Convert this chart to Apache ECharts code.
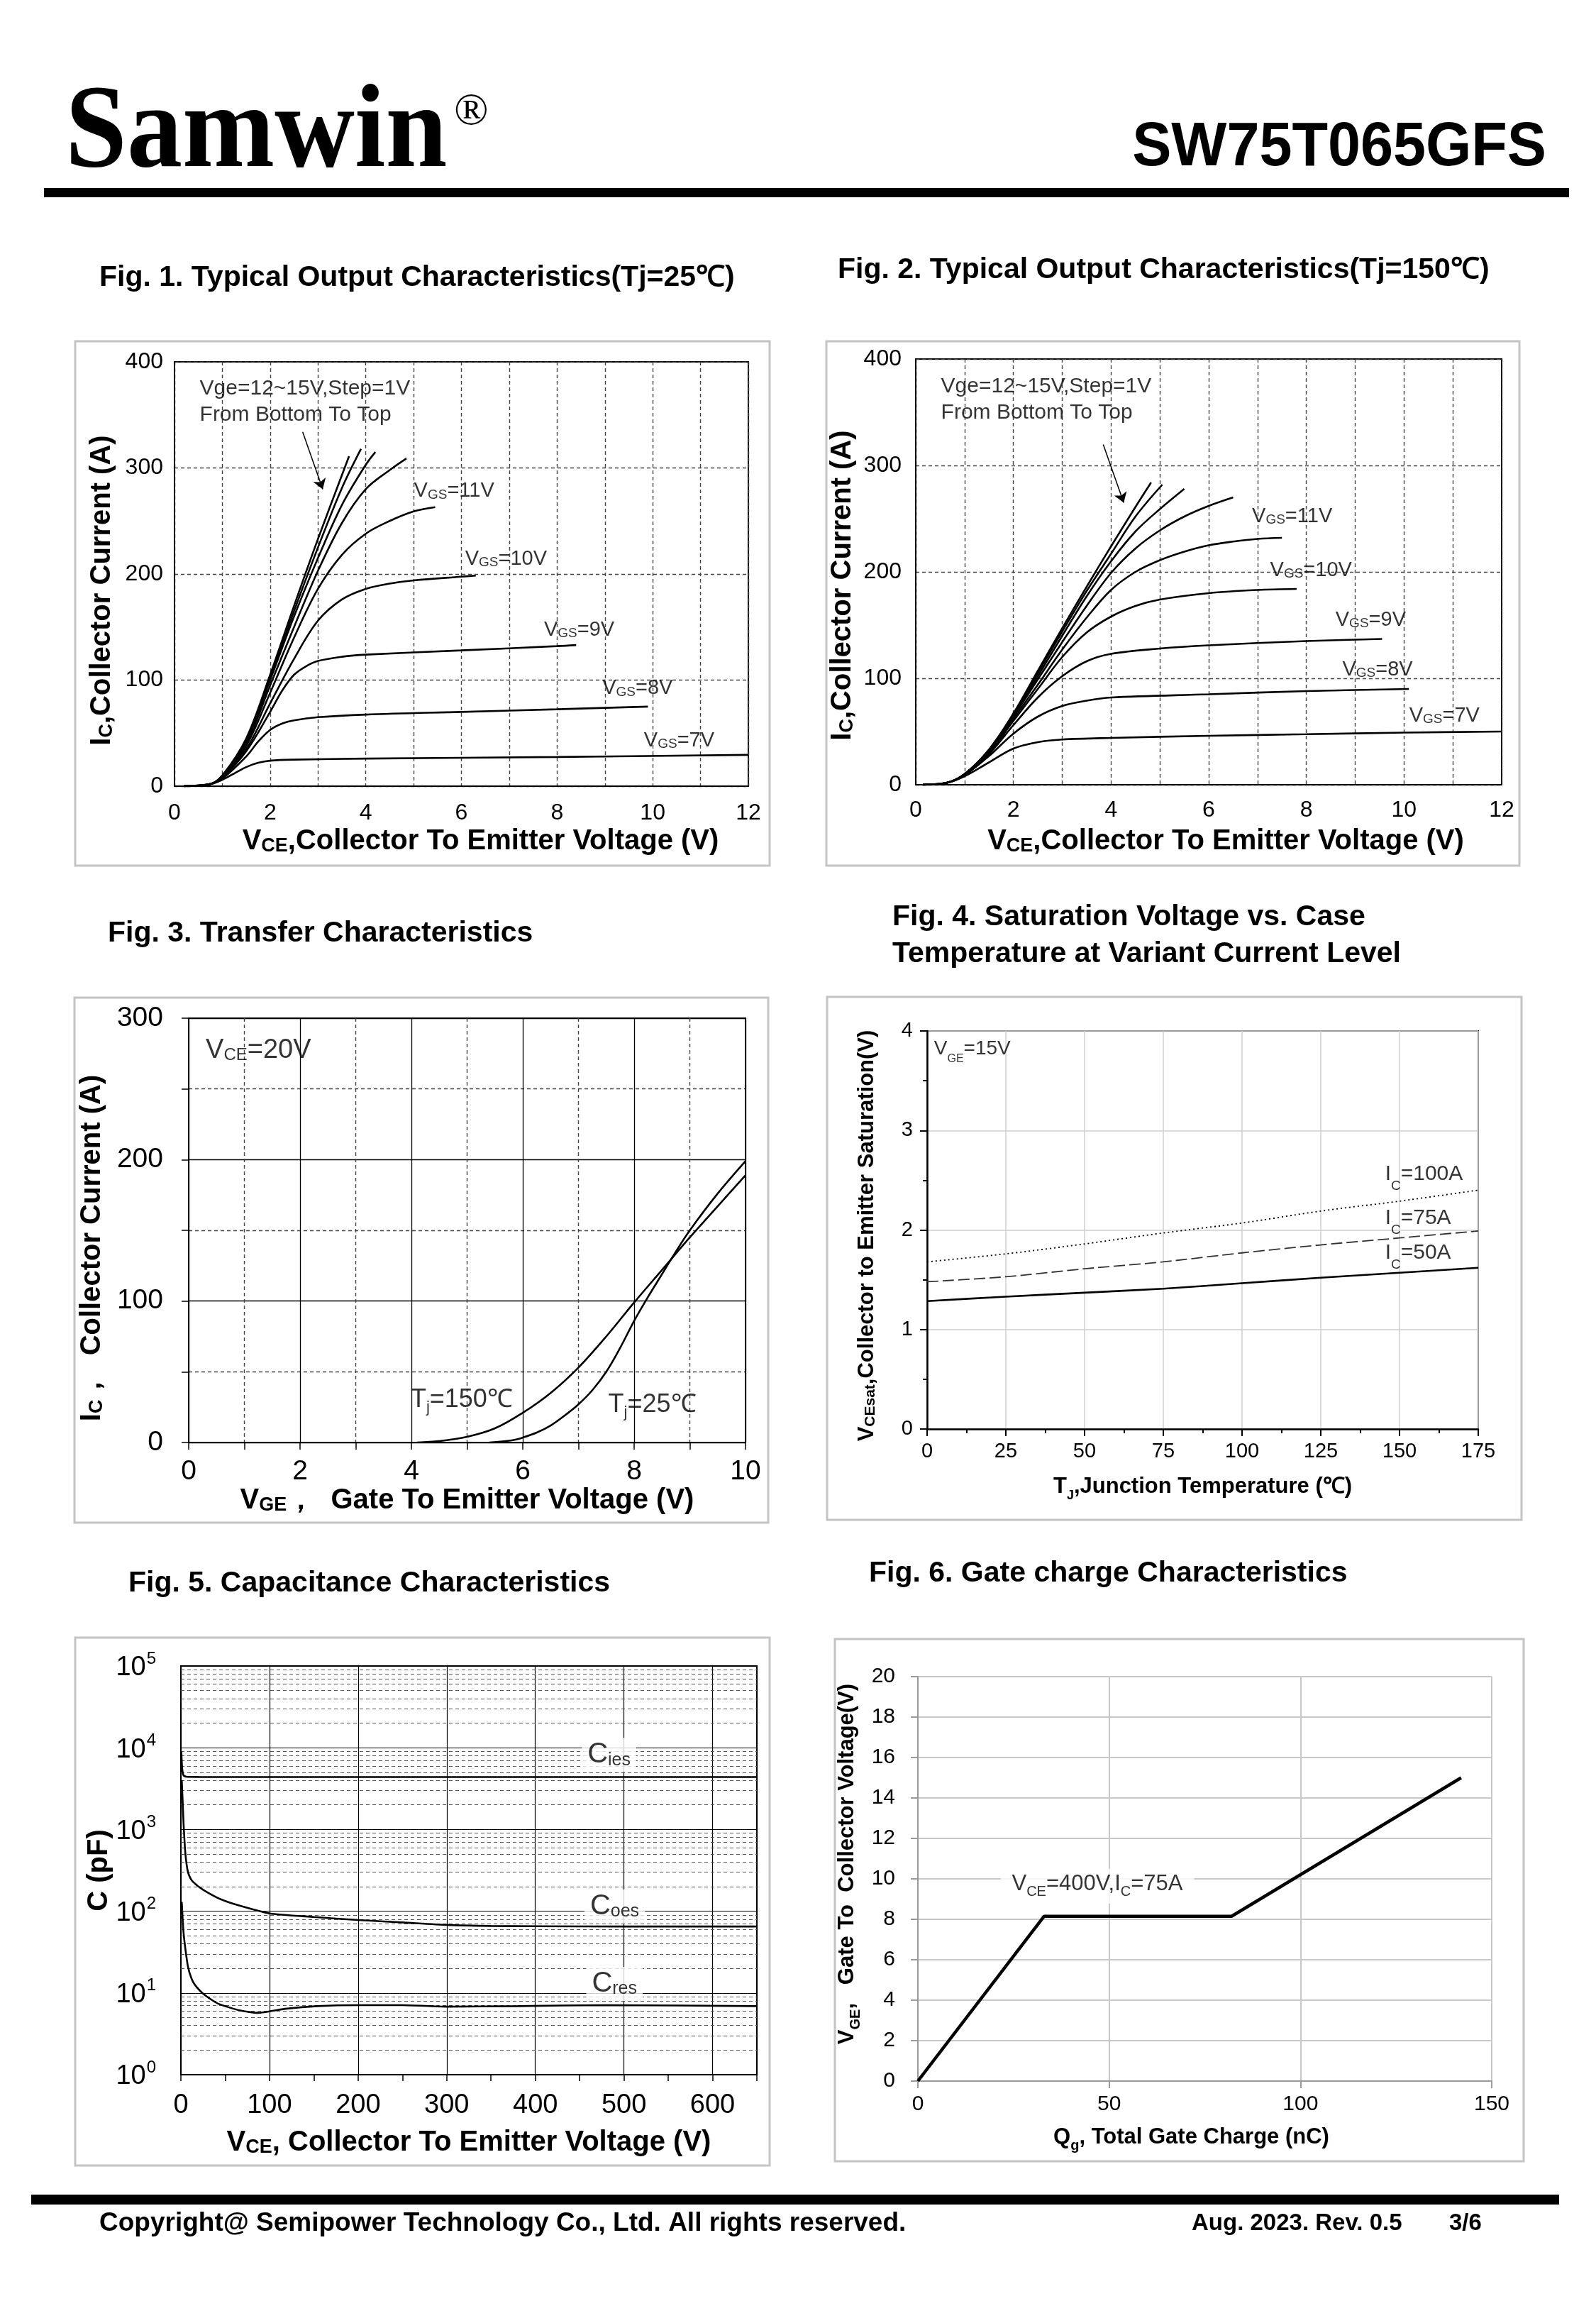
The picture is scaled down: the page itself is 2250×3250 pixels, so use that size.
<!DOCTYPE html>
<html>
<head>
<meta charset="utf-8">
<script src="https://cdn.jsdelivr.net/npm/echarts@6/dist/echarts.min.js"></script>
<style>
html,body{margin:0;padding:0;background:#fff;}
#c{width:2250px;height:3250px;}
</style>
</head>
<body>
<div id="c"></div>
<script>
// ---------------- DATA ----------------
// Fig.1 Typical output characteristics, Tj=25C  [VCE (V), IC (A)]
const fig1_vge7  = [[0.2,0],[0.75,2],[1,6],[1.25,12],[1.5,18],[1.75,22],[2,24],[2.5,25],[4,26],[8,27.5],[12,29.5]];
const fig1_vge8  = [[0.2,0],[0.75,2],[1,7],[1.5,28],[1.75,42],[2,53],[2.25,59],[2.5,62],[3,65],[4,67.5],[6,70],[8,72.5],[9.9,75]];
const fig1_vge9  = [[0.2,0],[0.75,2],[1,8],[1.5,33],[2,70],[2.25,90],[2.5,105],[2.75,113],[3,118],[3.5,122],[4,124],[6,128],[8,132],[8.4,133]];
const fig1_vge10 = [[0.2,0],[0.75,2],[1,8],[1.5,35],[2,78],[2.5,120],[3,156],[3.5,176],[4,186],[4.5,191],[5,194],[6,197.5],[6.3,198.5]];
const fig1_vge11 = [[0.2,0],[0.75,2],[1,9],[1.5,38],[2,88],[2.5,140],[3,186],[3.5,218],[4,238],[4.5,250],[5,259],[5.45,263]];
const fig1_vge12 = [[0.2,0],[0.75,2],[1,9],[1.5,40],[2,95],[2.5,150],[3,203],[3.5,248],[4,280],[4.5,298],[4.85,309]];
const fig1_vge13 = [[0.2,0],[0.75,2],[1,10],[1.5,42],[2,100],[2.5,160],[3,215],[3.5,265],[4,303],[4.2,315]];
const fig1_vge14 = [[0.2,0],[0.75,2],[1,10],[1.5,43],[2,102],[2.5,165],[3,225],[3.5,281],[3.9,318]];
const fig1_vge15 = [[0.2,0],[0.75,2],[1,10],[1.5,45],[2,105],[2.5,170],[3,233],[3.65,311]];

// Fig.2 Typical output characteristics, Tj=150C
const fig2_vge7  = [[0.15,0],[0.65,2],[1,8],[1.5,21],[2,34],[2.5,40],[3,42.5],[4,44],[6,46],[8,47.5],[10,49],[12,50]];
const fig2_vge8  = [[0.15,0],[0.65,2],[1,9],[1.5,27],[2,48],[2.5,64],[3,74],[3.5,79],[4,82],[6,85],[8,88],[10.1,90]];
const fig2_vge9  = [[0.15,0],[0.65,2],[1,9],[1.5,29],[2,56],[2.5,82],[3,102],[3.5,116],[4,123],[5,128],[6,131],[8,135],[9.55,137]];
const fig2_vge10 = [[0.15,0],[0.65,2],[1,10],[1.5,30],[2,60],[2.5,90],[3,120],[3.5,143],[4,158],[4.5,168],[5,174],[6,180],[7,183],[7.8,184]];
const fig2_vge11 = [[0.15,0],[0.65,2],[1,10],[1.5,31],[2,62],[2.5,94],[3,127],[3.5,157],[4,183],[4.5,200],[5,211],[5.5,219],[6,225],[6.5,228.5],[7,231],[7.5,232]];
const fig2_vge12 = [[0.15,0],[0.65,2],[1,10],[1.5,32],[2,64],[2.5,99],[3,134],[3.5,168],[4,199],[4.5,222],[5,239],[5.5,252],[6,262],[6.5,270]];
const fig2_vge13 = [[0.15,0],[0.65,2],[1,10],[1.5,32],[2,65],[2.5,102],[3,140],[3.5,177],[4,210],[4.5,238],[5,259],[5.5,278]];
const fig2_vge14 = [[0.15,0],[0.65,2],[1,10],[1.5,33],[2,66],[2.5,105],[3,144],[3.5,182],[4,217],[4.5,252],[5.05,282]];
const fig2_vge15 = [[0.15,0],[0.65,2],[1,10],[1.5,33],[2,67],[2.5,107],[3,147],[3.5,186],[4,224],[4.5,261],[4.82,284]];

// Fig.3 Transfer characteristics [VGE (V), IC (A)]
const fig3_tj25  = [[5.4,0],[5.8,1.5],[6,3.5],[6.25,7],[6.5,12],[6.75,19],[7,27],[7.25,37],[7.5,50],[7.75,67],[8,86],[8.25,103],[8.5,119],[8.75,135],[9,150],[9.5,176],[10,199]];
const fig3_tj150 = [[4.1,0],[4.5,1],[5,4],[5.5,10],[6,21],[6.5,35],[7,53],[7.5,75],[8,99],[8.5,122],[9,145],[9.5,167],[10,189]];

// Fig.4 VCEsat vs Tj
const fig4_temps = [0,25,50,75,100,125,150,175];
const fig4_ic100 = [1.68,1.76,1.86,1.97,2.07,2.19,2.29,2.40];
const fig4_ic75  = [1.48,1.53,1.61,1.68,1.77,1.85,1.92,1.99];
const fig4_ic50  = [1.285,1.33,1.37,1.41,1.465,1.52,1.57,1.62];

// Fig.5 Capacitance [VCE (V), C (pF)]
const fig5_cies = [[0.5,9000],[1.5,5500],[3,4600],[6,4420],[20,4390],[100,4380],[300,4380],[500,4380],[650,4380]];
const fig5_coes = [[1,4000],[2,2200],[3,1200],[5,520],[8,300],[12,240],[20,200],[30,170],[45,140],[65,118],[100,94],[150,85],[200,78],[250,73],[300,68],[350,66],[400,65.5],[500,65],[650,65]];
const fig5_cres = [[1,130],[2,80],[3,55],[5,35],[8,21],[12,15],[16,12.5],[26,9.6],[42,7.4],[67,6.1],[87,5.7],[118,6.4],[154,6.9],[200,7.1],[250,7.1],[300,6.8],[380,6.9],[480,7.1],[650,6.9]];

// Fig.6 Gate charge
const fig6_qg  = [0, 33, 82, 142];
const fig6_vge = [0, 8.15, 8.15, 15];

// Axis ranges / tick steps
const fig1_x = [0, 12, 2],  fig1_y = [0, 400, 100];
const fig2_x = [0, 12, 2],  fig2_y = [0, 400, 100];
const fig3_x = [0, 10, 2],  fig3_y = [0, 300, 100];
const fig4_x = [0, 175, 25], fig4_y = [0, 4, 1];
const fig5_x = [0, 650, 100], fig5_y = [1, 100000];
const fig6_x = [0, 150, 50], fig6_y = [0, 20, 2];

// ---------------- CHART ----------------
const FONT = '"Liberation Sans", Arial, Helvetica, sans-serif';
const chart = echarts.init(document.getElementById('c'), null, {renderer: 'canvas', width: 2250, height: 3250});

const grids = [
  {left: 246,  top: 510,  width: 809, height: 598},
  {left: 1291, top: 506,  width: 826, height: 600},
  {left: 266,  top: 1435, width: 785, height: 598},
  {left: 1307, top: 1453, width: 777, height: 561},
  {left: 255,  top: 2348, width: 812, height: 576},
  {left: 1294, top: 2363, width: 809, height: 570}
].map((g, i) => Object.assign({
  show: i !== 5, borderColor: '#000', borderWidth: 2, backgroundColor: 'transparent',
  containLabel: false, outerBoundsMode: 'none'
}, g));

function nameStyle(size, rich, pad) {
  const r = {};
  Object.keys(rich).forEach(k => { r[k] = Object.assign({fontFamily: FONT, fontWeight: 'bold', color: '#000', verticalAlign: 'bottom'}, rich[k]); });
  return {fontFamily: FONT, fontWeight: 'bold', fontSize: size, color: '#000', rich: r, padding: pad || 0};
}
function lbl(size, margin) {
  return {fontFamily: FONT, fontSize: size, color: '#000', margin: margin};
}
const dash1 = {type: [5, 4], color: '#444', width: 1.4};

const xAxes = [
  // fig1
  {gridIndex: 0, type: 'value', min: fig1_x[0], max: fig1_x[1], interval: fig1_x[2],
   axisLine: {lineStyle: {color: '#000', width: 2}}, axisTick: {show: false},
   axisLabel: lbl(32, 22), splitLine: {show: true, lineStyle: dash1},
   minorTick: {show: false, splitNumber: 2}, minorSplitLine: {show: true, lineStyle: dash1},
   name: '{b|V}{s|CE}{b|,Collector To Emitter Voltage (V)}', nameLocation: 'middle', nameGap: 58,
   nameTextStyle: nameStyle(40, {b: {fontSize: 40}, s: {fontSize: 27}}, [0, 0, 0, 54])},
  // fig2
  {gridIndex: 1, type: 'value', min: fig2_x[0], max: fig2_x[1], interval: fig2_x[2],
   axisLine: {lineStyle: {color: '#000', width: 2}}, axisTick: {show: false},
   axisLabel: lbl(32, 20), splitLine: {show: true, lineStyle: dash1},
   minorTick: {show: false, splitNumber: 2}, minorSplitLine: {show: true, lineStyle: dash1},
   name: '{b|V}{s|CE}{b|,Collector To Emitter Voltage (V)}', nameLocation: 'middle', nameGap: 60,
   nameTextStyle: nameStyle(40, {b: {fontSize: 40}, s: {fontSize: 27}}, [0, 0, 0, 48])},
  // fig3
  {gridIndex: 2, type: 'value', min: fig3_x[0], max: fig3_x[1], interval: fig3_x[2],
   axisLine: {lineStyle: {color: '#000', width: 2}},
   axisTick: {show: true, inside: false, length: 10, lineStyle: {color: '#000', width: 1.5}},
   minorTick: {show: true, splitNumber: 2, length: 10, lineStyle: {color: '#000', width: 1.5}},
   axisLabel: lbl(39, 22), splitLine: {show: true, lineStyle: {color: '#000', width: 1.3}},
   minorSplitLine: {show: true, lineStyle: dash1},
   name: '{b|V}{s|GE}{b|，  Gate To Emitter Voltage (V)}', nameLocation: 'middle', nameGap: 60,
   nameTextStyle: nameStyle(40, {b: {fontSize: 40}, s: {fontSize: 27}})},
  // fig4
  {gridIndex: 3, type: 'value', min: fig4_x[0], max: fig4_x[1], interval: fig4_x[2],
   axisLine: {lineStyle: {color: '#000', width: 2.5}},
   axisTick: {show: true, inside: false, length: 10, lineStyle: {color: '#000', width: 2}},
   minorTick: {show: true, splitNumber: 2, length: 6, lineStyle: {color: '#000', width: 2}},
   axisLabel: lbl(29, 17), splitLine: {show: true, lineStyle: {color: '#cfcfcf', width: 1.5}},
   name: '{b|T}{s|J}{b|,Junction Temperature (℃)}', nameLocation: 'middle', nameGap: 66,
   nameTextStyle: nameStyle(31, {b: {fontSize: 31, padding: [0, 0, 6, 0]}, s: {fontSize: 18}})},
  // fig5
  {gridIndex: 4, type: 'value', min: fig5_x[0], max: fig5_x[1], interval: fig5_x[2],
   axisLine: {lineStyle: {color: '#000', width: 2}},
   axisTick: {show: true, inside: false, length: 9, lineStyle: {color: '#000', width: 1.5}},
   minorTick: {show: true, splitNumber: 2, length: 9, lineStyle: {color: '#000', width: 1.5}},
   axisLabel: Object.assign(lbl(38, 25), {showMaxLabel: false}),
   splitLine: {show: true, lineStyle: {color: '#000', width: 1.2}},
   name: '{b|V}{s|CE}{b|, Collector To Emitter Voltage (V)}', nameLocation: 'middle', nameGap: 76,
   nameTextStyle: nameStyle(40, {b: {fontSize: 40}, s: {fontSize: 27}})},
  // fig6
  {gridIndex: 5, type: 'value', min: fig6_x[0], max: fig6_x[1], interval: fig6_x[2],
   axisLine: {lineStyle: {color: '#9a9a9a', width: 2}},
   axisTick: {show: true, inside: false, length: 10, lineStyle: {color: '#9a9a9a', width: 2}},
   axisLabel: lbl(30, 18), splitLine: {show: true, lineStyle: {color: '#c8c8c8', width: 2}},
   name: '{b|Q}{s|g}{b|, Total Gate Charge (nC)}', nameLocation: 'middle', nameGap: 64,
   nameTextStyle: nameStyle(31, {b: {fontSize: 31, padding: [0, 0, 6, 0]}, s: {fontSize: 20}}, [0, 38, 0, 0])}
];

const yAxes = [
  {gridIndex: 0, type: 'value', min: fig1_y[0], max: fig1_y[1], interval: fig1_y[2],
   axisLine: {lineStyle: {color: '#000', width: 2}}, axisTick: {show: false},
   axisLabel: lbl(32, 16), splitLine: {show: true, lineStyle: dash1},
   name: '{b|I}{s|C}{b|,Collector Current (A)}', nameLocation: 'middle', nameGap: 82,
   nameTextStyle: nameStyle(40, {b: {fontSize: 40}, s: {fontSize: 27}}, [0, 46, 0, 0])},
  {gridIndex: 1, type: 'value', min: fig2_y[0], max: fig2_y[1], interval: fig2_y[2],
   axisLine: {lineStyle: {color: '#000', width: 2}}, axisTick: {show: false},
   axisLabel: lbl(32, 20), splitLine: {show: true, lineStyle: dash1},
   name: '{b|I}{s|C}{b|,Collector Current (A)}', nameLocation: 'middle', nameGap: 83,
   nameTextStyle: nameStyle(40, {b: {fontSize: 40}, s: {fontSize: 27}}, [0, 38, 0, 0])},
  {gridIndex: 2, type: 'value', min: fig3_y[0], max: fig3_y[1], interval: fig3_y[2],
   axisLine: {lineStyle: {color: '#000', width: 2}},
   axisTick: {show: true, inside: false, length: 10, lineStyle: {color: '#000', width: 1.5}},
   minorTick: {show: true, splitNumber: 2, length: 10, lineStyle: {color: '#000', width: 1.5}},
   axisLabel: lbl(39, 36), splitLine: {show: true, lineStyle: {color: '#000', width: 1.3}},
   minorSplitLine: {show: true, lineStyle: dash1},
   name: '{b|I}{s|C}{b|，  Collector Current (A)}', nameLocation: 'middle', nameGap: 116,
   nameTextStyle: nameStyle(40, {b: {fontSize: 40}, s: {fontSize: 27}}, [0, 50, 0, 0])},
  {gridIndex: 3, type: 'value', min: fig4_y[0], max: fig4_y[1], interval: fig4_y[2],
   axisLine: {lineStyle: {color: '#000', width: 2.5}},
   axisTick: {show: true, inside: false, length: 10, lineStyle: {color: '#000', width: 2}},
   minorTick: {show: true, splitNumber: 2, length: 6, lineStyle: {color: '#000', width: 2}},
   axisLabel: lbl(29, 20), splitLine: {show: true, lineStyle: {color: '#cfcfcf', width: 1.5}},
   name: '{b|V}{s|CEsat}{b|,Collector to Emitter Saturation(V)}', nameLocation: 'middle', nameGap: 69,
   nameTextStyle: nameStyle(31, {b: {fontSize: 31}, s: {fontSize: 21}}, [0, 16, 0, 0])},
  {gridIndex: 4, type: 'log', logBase: 10, min: fig5_y[0], max: fig5_y[1],
   axisLine: {lineStyle: {color: '#000', width: 2}}, axisTick: {show: false},
   axisLabel: {fontFamily: FONT, color: '#000', margin: 35,
     formatter: v => '{b|10}{s|' + Math.round(Math.log10(v)) + '}',
     rich: {b: {fontFamily: FONT, fontSize: 38, color: '#000', verticalAlign: 'bottom'},
            s: {fontFamily: FONT, fontSize: 24, color: '#000', verticalAlign: 'bottom', padding: [0, 0, 20, 1]}}},
   splitLine: {show: true, lineStyle: {color: '#000', width: 1.2}},
   name: 'C (pF)', nameLocation: 'middle', nameGap: 95,
   nameTextStyle: nameStyle(40, {})},
  {gridIndex: 5, type: 'value', min: fig6_y[0], max: fig6_y[1], interval: fig6_y[2],
   axisLine: {lineStyle: {color: '#9a9a9a', width: 2}},
   axisTick: {show: true, inside: false, length: 10, lineStyle: {color: '#9a9a9a', width: 2}},
   axisLabel: lbl(30, 32), splitLine: {show: true, lineStyle: {color: '#c8c8c8', width: 2}},
   name: '{b|V}{s|GE}{b|,   Gate To  Collector Voltage(V)}', nameLocation: 'middle', nameGap: 78,
   nameTextStyle: nameStyle(31, {b: {fontSize: 31, padding: [0, 0, 6, 0]}, s: {fontSize: 20}}, [0, 0, 0, 42])}
];

const series = [];
function curve(gi, data, style, smooth) {
  series.push({type: 'line', xAxisIndex: gi, yAxisIndex: gi, data: data, showSymbol: false, symbol: 'none',
    smooth: smooth === undefined ? 0.35 : smooth, lineStyle: Object.assign({color: '#000', width: 2.6}, style || {}),
    z: 5, silent: true, animation: false});
}
function ann(gi, pos, text, rich, extra) {
  const r = {};
  Object.keys(rich).forEach(k => { r[k] = Object.assign({fontFamily: FONT, color: '#000', verticalAlign: 'bottom'}, rich[k]); });
  series.push({type: 'scatter', xAxisIndex: gi, yAxisIndex: gi, data: [pos], symbolSize: 1,
    itemStyle: {color: 'rgba(0,0,0,0)'}, silent: true, animation: false, z: 8,
    label: Object.assign({show: true, position: 'right', distance: 0, formatter: text, rich: r, fontFamily: FONT, color: '#000'}, extra || {})});
}

// Fig 1
[fig1_vge7, fig1_vge8, fig1_vge9, fig1_vge10, fig1_vge11, fig1_vge12, fig1_vge13, fig1_vge14, fig1_vge15].forEach(d => curve(0, d));
// Fig 2
[fig2_vge7, fig2_vge8, fig2_vge9, fig2_vge10, fig2_vge11, fig2_vge12, fig2_vge13, fig2_vge14, fig2_vge15].forEach(d => curve(1, d));
// Fig 3
curve(2, fig3_tj25); curve(2, fig3_tj150);
// Fig 4
curve(3, fig4_temps.map((t, i) => [t, fig4_ic100[i]]), {type: [2, 4], width: 1.8}, 0.3);
curve(3, fig4_temps.map((t, i) => [t, fig4_ic75[i]]), {type: [16, 6], width: 1.8, color: '#333'}, 0.3);
curve(3, fig4_temps.map((t, i) => [t, fig4_ic50[i]]), {width: 2.6}, 0.3);
// Fig 5
curve(4, fig5_cies, {width: 2.6}, 0.2);
curve(4, fig5_coes, {width: 2.6}, 0.2);
curve(4, fig5_cres, {width: 2.6}, 0.2);
// Fig 5 minor log gridlines (2..9 per decade)
const fig5Minor = [];
for (let d = 1; d < 100000; d *= 10) for (let m = 2; m <= 9; m++) fig5Minor.push({yAxis: d * m});
series.push({type: 'line', xAxisIndex: 4, yAxisIndex: 4, data: [[650, 1]], symbol: 'none', lineStyle: {opacity: 0}, z: 1, silent: true, animation: false,
  markLine: {silent: true, symbol: 'none', animation: false, label: {show: false}, lineStyle: {type: [5, 4], color: '#555', width: 1.2}, data: fig5Minor}});
// Fig 6
curve(5, fig6_qg.map((q, i) => [q, fig6_vge[i]]), {width: 4.5}, 0);

// annotations (positions in data coordinates)
const vgsRich = {m: {fontSize: 29}, s: {fontSize: 19}};
ann(0, [0.52, 374.8], 'Vge=12~15V,Step=1V', {}, {fontSize: 30});
ann(0, [0.52, 350], 'From Bottom To Top', {}, {fontSize: 30});
ann(0, [5.0, 278], '{m|V}{s|GS}{m|=11V}', vgsRich);
ann(0, [6.07, 214], '{m|V}{s|GS}{m|=10V}', vgsRich);
ann(0, [7.72, 147], '{m|V}{s|GS}{m|=9V}', vgsRich);
ann(0, [8.94, 92], '{m|V}{s|GS}{m|=8V}', vgsRich);
ann(0, [9.81, 43], '{m|V}{s|GS}{m|=7V}', vgsRich);
ann(1, [0.51, 374], 'Vge=12~15V,Step=1V', {}, {fontSize: 30});
ann(1, [0.51, 349.6], 'From Bottom To Top', {}, {fontSize: 30});
ann(1, [6.88, 252], '{m|V}{s|GS}{m|=11V}', vgsRich);
ann(1, [7.25, 201.6], '{m|V}{s|GS}{m|=10V}', vgsRich);
ann(1, [8.59, 154.5], '{m|V}{s|GS}{m|=9V}', vgsRich);
ann(1, [8.73, 108], '{m|V}{s|GS}{m|=8V}', vgsRich);
ann(1, [10.1, 65], '{m|V}{s|GS}{m|=7V}', vgsRich);
series.push({type: 'lines', coordinateSystem: 'cartesian2d', xAxisIndex: 0, yAxisIndex: 0, silent: true, animation: false,
  symbol: ['none', 'arrow'], symbolSize: 14, lineStyle: {color: '#000', width: 1.5, opacity: 1},
  data: [{coords: [[2.68, 334], [3.1, 280]]}]});
series.push({type: 'lines', coordinateSystem: 'cartesian2d', xAxisIndex: 1, yAxisIndex: 1, silent: true, animation: false,
  symbol: ['none', 'arrow'], symbolSize: 14, lineStyle: {color: '#000', width: 1.5, opacity: 1},
  data: [{coords: [[3.84, 319.7], [4.26, 265]]}]});

ann(2, [0.3, 277], '{m|V}{s|CE}{m|=20V}', {m: {fontSize: 38}, s: {fontSize: 24}});
ann(2, [3.98, 29.3], '{m|T}{s|j}{m|=150℃}', {m: {fontSize: 36, padding: [0, 0, 4, 0]}, s: {fontSize: 22}});
ann(2, [7.53, 25.7], '{m|T}{s|j}{m|=25℃}', {m: {fontSize: 36, padding: [0, 0, 4, 0]}, s: {fontSize: 22}});

const icRich = {m: {fontSize: 30, padding: [0, 0, 12, 0]}, s: {fontSize: 19}};
ann(3, [2.1, 3.79], '{m|V}{s|GE}{m|=15V}', {m: {fontSize: 28, padding: [0, 0, 8, 0]}, s: {fontSize: 16}});
ann(3, [145.3, 2.52], '{m|I}{s|C}{m|=100A}', icRich);
ann(3, [145.3, 2.08], '{m|I}{s|C}{m|=75A}', icRich);
ann(3, [145.3, 1.73], '{m|I}{s|C}{m|=50A}', icRich);

const cRich = {m: {fontSize: 40}, s: {fontSize: 25}};
const whiteBg = {backgroundColor: '#fff', padding: [4, 8, 4, 8]};
ann(4, [452, 8180], '{m|C}{s|ies}', cRich, whiteBg);
ann(4, [455, 114], '{m|C}{s|oes}', cRich, whiteBg);
ann(4, [457, 12.9], '{m|C}{s|res}', cRich, whiteBg);

ann(5, [21.5, 9.64], '{m|V}{s|CE}{m|=400V,I}{s|C}{m|=75A}', {m: {fontSize: 31, padding: [0, 0, 6, 0]}, s: {fontSize: 20}},
  {backgroundColor: '#fff', padding: [6, 16, 6, 16]});

// ---------------- PAGE GRAPHICS ----------------
function txt(x, y, text, font, align, extra) {
  return Object.assign({type: 'text', x: x, y: y, silent: true, z: 10,
    style: {text: text, font: font, fill: '#000', textAlign: align || 'left', textVerticalAlign: 'middle'}}, extra || {});
}
function box(x1, y1, x2, y2) {
  return {type: 'rect', silent: true, z: 0, shape: {x: x1, y: y1, width: x2 - x1, height: y2 - y1},
    style: {fill: 'none', stroke: '#c4c4c4', lineWidth: 3}};
}
const TF = 'bold 41px ' + FONT;
const graphics = [
  txt(92, 191, 'Samwin', 'bold 168px "Liberation Serif", "Times New Roman", serif', 'left', {scaleX: 0.93}),
  txt(640, 158, '®', '64px "Liberation Serif", serif', 'left'),
  txt(2180, 209, 'SW75T065GFS', 'bold 88px ' + FONT, 'right', {scaleX: 0.94}),
  {type: 'rect', silent: true, shape: {x: 62, y: 265, width: 2150, height: 13}, style: {fill: '#000'}},
  txt(140, 392, 'Fig. 1. Typical Output Characteristics(Tj=25℃)', TF),
  txt(1181, 381, 'Fig. 2. Typical Output Characteristics(Tj=150℃)', TF),
  txt(152, 1316, 'Fig. 3. Transfer Characteristics', TF),
  txt(1258, 1293, 'Fig. 4. Saturation Voltage vs. Case', TF),
  txt(1258, 1345, 'Temperature at Variant Current Level', TF),
  txt(181, 2232, 'Fig. 5. Capacitance Characteristics', TF),
  txt(1225, 2218, 'Fig. 6. Gate charge Characteristics', TF),
  box(106, 481, 1085, 1220),
  box(1165, 481, 2142, 1220),
  box(105, 1406, 1083, 2146),
  box(1166, 1405, 2145, 2142),
  box(106, 2308, 1085, 3052),
  box(1177, 2310, 2148, 3046),
  {type: 'rect', silent: true, shape: {x: 44, y: 3093, width: 2154, height: 14}, style: {fill: '#000'}},
  txt(140, 3134, 'Copyright@ Semipower Technology Co., Ltd. All rights reserved.', 'bold 37px ' + FONT),
  txt(1680, 3134, 'Aug. 2023. Rev. 0.5', 'bold 33px ' + FONT),
  txt(2043, 3134, '3/6', 'bold 33px ' + FONT)
];

chart.setOption({
  animation: false,
  backgroundColor: '#fff',
  grid: grids,
  xAxis: xAxes,
  yAxis: yAxes,
  series: series,
  graphic: {elements: graphics}
});
</script>
</body>
</html>
